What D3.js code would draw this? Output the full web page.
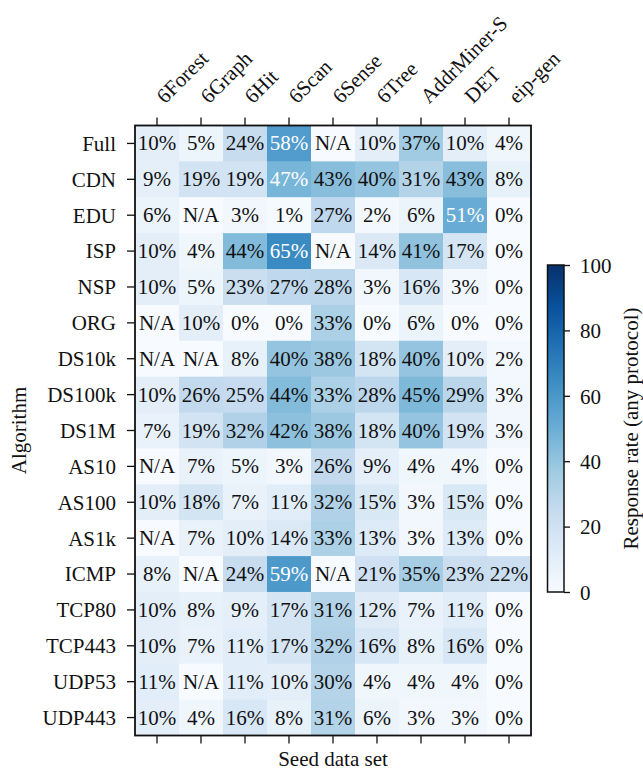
<!DOCTYPE html>
<html>
<head>
<meta charset="utf-8">
<script src="https://cdn.jsdelivr.net/npm/d3@7"></script>
<style>
  body { margin: 0; background: #fff; }
  svg text { font-family: "Liberation Serif", "DejaVu Serif", serif; fill: #111; }
</style>
</head>
<body>
<svg width="643" height="771"></svg>
<script>
// seed data sets (columns) and algorithms (rows)
const seedSets = ["6Forest", "6Graph", "6Hit", "6Scan", "6Sense", "6Tree", "AddrMiner-S", "DET", "eip-gen"]
const algorithms = ["Full", "CDN", "EDU", "ISP", "NSP", "ORG", "DS10k", "DS100k", "DS1M",
    "AS10", "AS100", "AS1k", "ICMP", "TCP80", "TCP443", "UDP53", "UDP443"]

// response rate in %, null = N/A
const rates = [
    [10, 5, 24, 58, null, 10, 37, 10, 4],
    [9, 19, 19, 47, 43, 40, 31, 43, 8],
    [6, null, 3, 1, 27, 2, 6, 51, 0],
    [10, 4, 44, 65, null, 14, 41, 17, 0],
    [10, 5, 23, 27, 28, 3, 16, 3, 0],
    [null, 10, 0, 0, 33, 0, 6, 0, 0],
    [null, null, 8, 40, 38, 18, 40, 10, 2],
    [10, 26, 25, 44, 33, 28, 45, 29, 3],
    [7, 19, 32, 42, 38, 18, 40, 19, 3],
    [null, 7, 5, 3, 26, 9, 4, 4, 0],
    [10, 18, 7, 11, 32, 15, 3, 15, 0],
    [null, 7, 10, 14, 33, 13, 3, 13, 0],
    [8, null, 24, 59, null, 21, 35, 23, 22],
    [10, 8, 9, 17, 31, 12, 7, 11, 0],
    [10, 7, 11, 17, 32, 16, 8, 16, 0],
    [11, null, 11, 10, 30, 4, 4, 4, 0],
    [10, 4, 16, 8, 31, 6, 3, 3, 0]
]
const colorTicks = [0, 20, 40, 60, 80, 100]

const FONT = "'Liberation Serif', 'DejaVu Serif', serif"
const svg = d3.select("svg")
const plotLeft = 135, plotTop = 125.5, plotW = 396, plotH = 610

const xScale = d3.scaleBand().domain(seedSets).range([plotLeft, plotLeft + plotW])
const yScale = d3.scaleBand().domain(algorithms).range([plotTop, plotTop + plotH])

// matplotlib style Blues: linear between the 9 brewer colours
const blues = d3.schemeBlues[9]
const color = d3.scaleLinear()
    .domain(d3.range(9).map(i => i * 100 / 8))
    .range(blues)
    .interpolate(d3.interpolateRgb)

const cells = []
rates.forEach((row, i) => row.forEach((v, j) => cells.push({alg: algorithms[i], seed: seedSets[j], v})))

svg.append("g")
    .selectAll("rect")
    .data(cells)
    .enter()
    .append("rect")
    .attr("x", d => xScale(d.seed))
    .attr("y", d => yScale(d.alg))
    .attr("width", xScale.bandwidth() + 0.5)
    .attr("height", yScale.bandwidth() + 0.5)
    .attr("fill", d => color(d.v === null ? 0 : d.v))

svg.append("g")
    .selectAll("text")
    .data(cells)
    .enter()
    .append("text")
    .attr("x", d => xScale(d.seed) + xScale.bandwidth() / 2)
    .attr("y", d => yScale(d.alg) + yScale.bandwidth() / 2 + 7)
    .attr("text-anchor", "middle")
    .style("font-size", "21px")
    .style("fill", d => d.v !== null && d.v > 46 ? "#fff" : "#111")
    .text(d => d.v === null ? "N/A" : d.v + "%")

// axes
const topAxis = d3.axisTop(xScale).tickSize(8).tickFormat("")
const bottomAxis = d3.axisBottom(xScale).tickSize(8).tickFormat("")
const leftAxis = d3.axisLeft(yScale).tickSize(8).tickPadding(11)

svg.append("g").attr("id", "topAxisG").attr("transform", `translate(0, ${plotTop})`).call(topAxis)
svg.append("g").attr("id", "bottomAxisG").attr("transform", `translate(0, ${plotTop + plotH})`).call(bottomAxis)
svg.append("g").attr("id", "leftAxisG").attr("transform", `translate(${plotLeft}, 0)`).call(leftAxis)

svg.selectAll("path.domain").style("display", "none")
svg.selectAll(".tick line").attr("stroke", "#111").attr("stroke-width", 1.3)
svg.select("#leftAxisG").selectAll("text").style("font-size", "21px").attr("dy", "0.35em")

// rotated column labels
svg.append("g")
    .selectAll("text")
    .data(seedSets)
    .enter()
    .append("text")
    .attr("transform", d => `translate(${xScale(d) + xScale.bandwidth() / 2 + 8}, ${plotTop - 21}) rotate(-45)`)
    .style("font-size", "21px")
    .text(d => d)

svg.append("rect")
    .attr("x", plotLeft).attr("y", plotTop)
    .attr("width", plotW).attr("height", plotH)
    .attr("fill", "none").attr("stroke", "#111").attr("stroke-width", 1.8)

svg.append("text")
    .attr("x", plotLeft + plotW / 2).attr("y", 766)
    .attr("text-anchor", "middle")
    .style("font-size", "21px")
    .text("Seed data set")

svg.append("text")
    .attr("transform", `translate(26, ${plotTop + plotH / 2}) rotate(-90)`)
    .attr("text-anchor", "middle")
    .style("font-size", "21px")
    .text("Algorithm")

// colorbar
const cbX = 547.5, cbW = 16.5, cbTop = 265, cbBottom = 592
const cbScale = d3.scaleLinear().domain([0, 100]).range([cbBottom, cbTop])

const grad = svg.append("defs").append("linearGradient")
    .attr("id", "cbGrad")
    .attr("x1", 0).attr("y1", 1).attr("x2", 0).attr("y2", 0)
grad.selectAll("stop")
    .data(blues)
    .enter()
    .append("stop")
    .attr("offset", (d, i) => i / 8)
    .attr("stop-color", d => d)

svg.append("rect")
    .attr("x", cbX).attr("y", cbTop)
    .attr("width", cbW).attr("height", cbBottom - cbTop)
    .attr("fill", "url(#cbGrad)")
    .attr("stroke", "#111").attr("stroke-width", 1.5)

const cbAxis = d3.axisRight(cbScale).tickValues(colorTicks).tickSize(6).tickPadding(10)
svg.append("g")
    .attr("id", "cbAxisG")
    .attr("transform", `translate(${cbX + cbW}, 0)`)
    .call(cbAxis)
svg.select("#cbAxisG").select("path.domain").style("display", "none")
svg.select("#cbAxisG").selectAll("line").attr("stroke", "#111").attr("stroke-width", 1.3)
svg.select("#cbAxisG").selectAll("text").style("font-size", "21px").attr("dy", "0.35em")

svg.append("text")
    .attr("transform", `translate(638, ${(cbTop + cbBottom) / 2}) rotate(-90)`)
    .attr("text-anchor", "middle")
    .style("font-size", "21px")
    .text("Response rate (any protocol)")

// every label in the serif face
svg.selectAll("text").style("font-family", FONT)
</script>
</body>
</html>
